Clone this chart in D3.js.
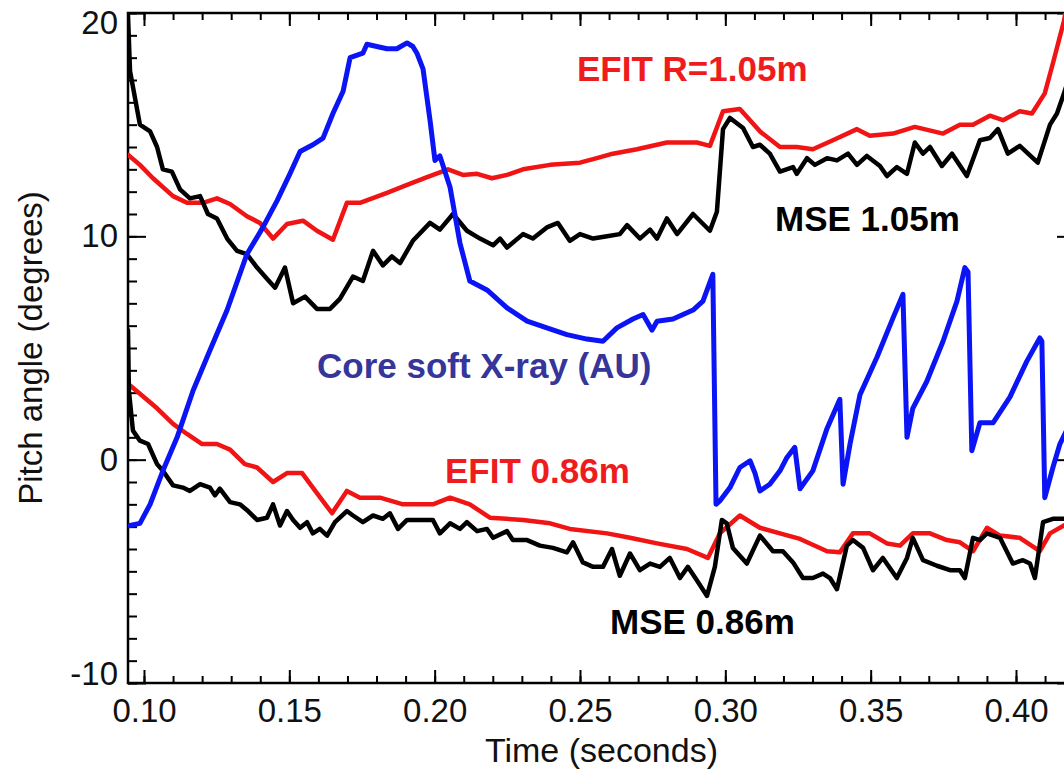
<!DOCTYPE html>
<html>
<head>
<meta charset="utf-8">
<script src="https://cdn.jsdelivr.net/npm/d3@7"></script>
<style>
  html, body { margin: 0; padding: 0; background: #fff; }
  svg { display: block; }
</style>
</head>
<body>
<svg id="chart" width="1064" height="770"></svg>
<script>
// Pitch angle traces, [time (s), angle (deg)]
const efit105 = [
  [0.0945, 13.65], [0.0986, 13.2], [0.1031, 12.6], [0.1100, 11.8], [0.1148, 11.5],
  [0.1203, 11.5], [0.1251, 11.7], [0.1296, 11.45], [0.1354, 10.9], [0.1399, 10.6],
  [0.1444, 9.9], [0.1492, 10.55], [0.1547, 10.7], [0.1595, 10.25], [0.1650, 9.85],
  [0.1698, 11.5], [0.1743, 11.5], [0.1836, 11.95], [0.1905, 12.3], [0.1974, 12.65],
  [0.2046, 13.0], [0.2097, 12.75], [0.2146, 12.8], [0.2197, 12.6], [0.2249, 12.75],
  [0.2304, 13.0], [0.2397, 13.2], [0.2500, 13.3], [0.2558, 13.5], [0.2613, 13.7],
  [0.2696, 13.9], [0.2799, 14.2], [0.2902, 14.2], [0.2947, 14.05], [0.2992, 15.6],
  [0.3050, 15.7], [0.3119, 14.7], [0.3188, 14.0], [0.3246, 14.0], [0.3301, 13.9],
  [0.3370, 14.3], [0.3453, 14.8], [0.3497, 14.5], [0.3577, 14.6], [0.3652, 14.9],
  [0.3749, 14.6], [0.3807, 15.0], [0.3852, 15.0], [0.3910, 15.4], [0.3955, 15.2],
  [0.4013, 15.6], [0.4055, 15.5], [0.4099, 16.4], [0.4127, 17.75], [0.4165, 19.64],
  [0.4185, 21.0]
];

const mse105 = [
  [0.0945, 19.9], [0.0952, 17.4], [0.0969, 16.2], [0.0986, 15.0], [0.1021, 14.7],
  [0.1045, 14.0], [0.1065, 13.0], [0.1096, 12.9], [0.1124, 12.1], [0.1158, 11.7],
  [0.1193, 11.8], [0.1220, 11.0], [0.1251, 10.8], [0.1286, 9.9], [0.1320, 9.35],
  [0.1354, 9.2], [0.1389, 8.6], [0.1423, 8.1], [0.1451, 7.7], [0.1485, 8.6],
  [0.1513, 7.0], [0.1554, 7.3], [0.1595, 6.75], [0.1640, 6.75], [0.1674, 7.2],
  [0.1719, 8.2], [0.1753, 8.0], [0.1788, 9.35], [0.1822, 8.7], [0.1853, 9.1],
  [0.1881, 8.8], [0.1925, 9.8], [0.1984, 10.6], [0.2018, 10.3], [0.2063, 11.0],
  [0.2111, 10.25], [0.2156, 9.9], [0.2201, 9.6], [0.2225, 9.9], [0.2249, 9.5],
  [0.2304, 10.1], [0.2338, 9.9], [0.2386, 10.4], [0.2424, 10.6], [0.2465, 9.8],
  [0.2500, 10.1], [0.2545, 9.9], [0.2593, 10.0], [0.2637, 10.1], [0.2662, 10.5],
  [0.2706, 9.9], [0.2741, 10.3], [0.2765, 9.9], [0.2799, 10.8], [0.2834, 10.1],
  [0.2889, 11.0], [0.2947, 10.25], [0.2971, 11.1], [0.2992, 14.8], [0.3016, 15.3],
  [0.3061, 14.85], [0.3095, 14.0], [0.3119, 14.1], [0.3153, 13.7], [0.3188, 12.9],
  [0.3233, 13.1], [0.3246, 12.8], [0.3281, 13.5], [0.3308, 13.2], [0.3350, 13.5],
  [0.3384, 13.4], [0.3422, 13.7], [0.3453, 13.2], [0.3487, 13.6], [0.3532, 13.15],
  [0.3556, 12.7], [0.3590, 13.1], [0.3625, 12.8], [0.3652, 14.2], [0.3680, 13.7],
  [0.3704, 14.0], [0.3745, 13.15], [0.3780, 13.7], [0.3831, 12.7], [0.3876, 14.3],
  [0.3910, 14.4], [0.3938, 14.8], [0.3972, 13.7], [0.4013, 14.05], [0.4075, 13.3],
  [0.4117, 15.0], [0.4141, 15.5], [0.4165, 16.4], [0.4185, 17.2]
];

const efit086 = [
  [0.0945, 3.4], [0.0986, 2.95], [0.1045, 2.3], [0.1100, 1.6], [0.1148, 1.15],
  [0.1200, 0.7], [0.1251, 0.7], [0.1296, 0.45], [0.1347, -0.2], [0.1389, -0.35],
  [0.1444, -1.0], [0.1492, -0.6], [0.1544, -0.6], [0.1595, -1.5], [0.1647, -2.4],
  [0.1698, -1.4], [0.1743, -1.7], [0.1812, -1.7], [0.1891, -2.0], [0.1994, -2.0],
  [0.2053, -1.7], [0.2121, -2.0], [0.2190, -2.6], [0.2304, -2.7], [0.2397, -2.85],
  [0.2465, -3.1], [0.2593, -3.3], [0.2672, -3.5], [0.2765, -3.75], [0.2868, -4.0],
  [0.2940, -4.4], [0.2981, -3.3], [0.3050, -2.5], [0.3119, -3.05], [0.3188, -3.3],
  [0.3257, -3.55], [0.3350, -4.1], [0.3394, -4.15], [0.3439, -3.3], [0.3497, -3.3],
  [0.3556, -3.75], [0.3601, -3.85], [0.3645, -3.3], [0.3704, -3.3], [0.3762, -3.6],
  [0.3807, -3.7], [0.3852, -4.1], [0.3900, -3.05], [0.3945, -3.4], [0.4013, -3.5],
  [0.4082, -4.1], [0.4117, -3.3], [0.4165, -2.95], [0.4185, -2.8]
];

const mse086 = [
  [0.0945, 5.8], [0.0948, 3.1], [0.0962, 1.3], [0.0986, 0.85], [0.1014, 0.7],
  [0.1045, -0.2], [0.1065, -0.5], [0.1100, -1.15], [0.1134, -1.25], [0.1158, -1.4],
  [0.1193, -1.1], [0.1227, -1.25], [0.1244, -1.6], [0.1261, -1.3], [0.1296, -1.9],
  [0.1330, -2.0], [0.1358, -2.3], [0.1389, -2.7], [0.1423, -2.6], [0.1444, -2.0],
  [0.1468, -2.95], [0.1492, -2.3], [0.1513, -2.7], [0.1537, -3.05], [0.1561, -2.8],
  [0.1581, -3.3], [0.1605, -3.1], [0.1630, -3.4], [0.1657, -2.8], [0.1698, -2.3],
  [0.1719, -2.5], [0.1753, -2.8], [0.1788, -2.5], [0.1822, -2.65], [0.1846, -2.4],
  [0.1874, -3.1], [0.1905, -2.7], [0.1949, -2.7], [0.1994, -2.7], [0.2018, -3.3],
  [0.2053, -2.85], [0.2087, -3.1], [0.2111, -2.8], [0.2146, -3.2], [0.2180, -3.1],
  [0.2201, -3.5], [0.2249, -3.2], [0.2269, -3.6], [0.2318, -3.6], [0.2362, -3.85],
  [0.2407, -3.95], [0.2455, -4.15], [0.2476, -3.7], [0.2510, -4.6], [0.2545, -4.8],
  [0.2579, -4.8], [0.2610, -4.0], [0.2637, -5.2], [0.2672, -4.2], [0.2706, -4.95],
  [0.2741, -4.65], [0.2775, -4.8], [0.2809, -4.4], [0.2844, -5.3], [0.2871, -4.8],
  [0.2902, -5.4], [0.2937, -6.1], [0.2964, -4.8], [0.2988, -2.7], [0.3005, -2.85],
  [0.3026, -3.95], [0.3074, -4.65], [0.3119, -3.4], [0.3164, -4.1], [0.3198, -4.1],
  [0.3233, -4.6], [0.3267, -5.3], [0.3301, -5.3], [0.3336, -5.1], [0.3360, -5.3],
  [0.3384, -5.8], [0.3418, -3.85], [0.3439, -3.6], [0.3474, -3.95], [0.3508, -4.95],
  [0.3542, -4.4], [0.3590, -5.3], [0.3625, -4.4], [0.3645, -3.5], [0.3680, -4.5],
  [0.3728, -4.75], [0.3773, -4.95], [0.3807, -4.95], [0.3824, -5.3], [0.3852, -3.5],
  [0.3876, -3.6], [0.3900, -3.3], [0.3945, -3.5], [0.3989, -4.65], [0.4024, -4.5],
  [0.4048, -4.65], [0.4065, -5.3], [0.4093, -2.8], [0.4127, -2.65], [0.4185, -2.65]
];

// Core soft X-ray signal, arbitrary units on the same vertical scale
const sxr = [
  [0.0952, -2.95], [0.0986, -2.85], [0.1021, -2.0], [0.1065, -0.5], [0.1114, 1.0],
  [0.1169, 3.1], [0.1227, 4.9], [0.1286, 6.7], [0.1354, 9.2], [0.1409, 10.4],
  [0.1458, 11.6], [0.1502, 12.8], [0.1537, 13.8], [0.1581, 14.1], [0.1616, 14.4],
  [0.1650, 15.5], [0.1685, 16.5], [0.1709, 18.0], [0.1753, 18.2], [0.1767, 18.6],
  [0.1801, 18.5], [0.1836, 18.4], [0.1870, 18.4], [0.1905, 18.66], [0.1925, 18.5],
  [0.1939, 18.2], [0.1960, 17.5], [0.1984, 15.2], [0.2001, 13.4], [0.2018, 13.6],
  [0.2053, 12.2], [0.2087, 9.7], [0.2121, 8.0], [0.2180, 7.6], [0.2249, 6.8],
  [0.2318, 6.2], [0.2386, 5.9], [0.2455, 5.6], [0.2524, 5.4], [0.2579, 5.3],
  [0.2627, 5.9], [0.2682, 6.3], [0.2717, 6.5], [0.2748, 5.8], [0.2765, 6.2],
  [0.2820, 6.3], [0.2889, 6.7], [0.2923, 7.1], [0.2957, 8.3], [0.2968, -2.0],
  [0.2981, -1.85], [0.3016, -1.25], [0.3050, -0.35], [0.3085, -0.05], [0.3102, -0.6],
  [0.3119, -1.4], [0.3153, -1.1], [0.3188, -0.5], [0.3212, 0.1], [0.3239, 0.55],
  [0.3257, -1.3], [0.3301, -0.5], [0.3350, 1.4], [0.3394, 2.7], [0.3405, -1.1],
  [0.3429, 0.7], [0.3463, 2.9], [0.3522, 4.6], [0.3577, 6.35], [0.3611, 7.4],
  [0.3625, 1.0], [0.3645, 2.3], [0.3693, 3.5], [0.3749, 5.3], [0.3797, 7.1],
  [0.3824, 8.6], [0.3835, 8.4], [0.3848, 0.4], [0.3876, 1.65], [0.3921, 1.65],
  [0.3979, 2.8], [0.4037, 4.4], [0.4082, 5.45], [0.4089, 5.3], [0.4099, -1.7],
  [0.4127, -0.35], [0.4151, 0.7], [0.4185, 1.6]
];

// Axis ticks
const timeMajorTicks = [0.10, 0.15, 0.20, 0.25, 0.30, 0.35, 0.40];
const timeMinorTicks = [0.10, 0.11, 0.12, 0.13, 0.14, 0.15, 0.16, 0.17, 0.18, 0.19, 0.20,
  0.21, 0.22, 0.23, 0.24, 0.25, 0.26, 0.27, 0.28, 0.29, 0.30, 0.31, 0.32, 0.33, 0.34,
  0.35, 0.36, 0.37, 0.38, 0.39, 0.40, 0.41, 0.42];
const timeTickLabels = ["0.10", "0.15", "0.20", "0.25", "0.30", "0.35", "0.40"];
const angleMajorTicks = [-10, 0, 10, 20];
const angleTickLabels = ["-10", "0", "10", "20"];
const angleMinorTicks = d3.range(-10, 21, 1);

// ---- layout ----
const frame = { left: 128, right: 1075, top: 13, bottom: 683 };
const x = d3.scaleLinear().domain([0.0945, 0.4203]).range([frame.left, frame.right]);
const y = d3.scaleLinear().domain([-10, 20]).range([frame.bottom, frame.top]);

const svg = d3.select("#chart");
const tickFont = "'Liberation Sans', Arial, Helvetica, sans-serif";

svg.append("defs").append("clipPath").attr("id", "plotClip")
  .append("rect")
  .attr("x", frame.left).attr("y", frame.top)
  .attr("width", frame.right - frame.left).attr("height", frame.bottom - frame.top);

function styleAxis(g) {
  g.select(".domain").remove();
  g.selectAll(".tick line").attr("stroke", "#000").attr("stroke-width", 2);
  g.selectAll(".tick text")
    .attr("fill", "#111")
    .style("font-family", tickFont)
    .style("font-size", "33px");
}

// bottom axis: minor + major ticks pointing inward
svg.append("g").attr("transform", `translate(0,${frame.bottom})`)
  .call(d3.axisBottom(x).tickValues(timeMinorTicks).tickSize(-7).tickFormat(""))
  .call(styleAxis);
svg.append("g").attr("transform", `translate(0,${frame.bottom})`)
  .call(d3.axisBottom(x).tickValues(timeMajorTicks).tickSize(-13).tickPadding(16)
    .tickFormat((d, i) => timeTickLabels[i]))
  .call(styleAxis);

// top axis mirrors the bottom ticks
svg.append("g").attr("transform", `translate(0,${frame.top})`)
  .call(d3.axisTop(x).tickValues(timeMinorTicks).tickSize(-7).tickFormat(""))
  .call(styleAxis);
svg.append("g").attr("transform", `translate(0,${frame.top})`)
  .call(d3.axisTop(x).tickValues(timeMajorTicks).tickSize(-13).tickFormat(""))
  .call(styleAxis);

// left axis
svg.append("g").attr("transform", `translate(${frame.left},0)`)
  .call(d3.axisLeft(y).tickValues(angleMinorTicks).tickSize(-9).tickFormat(""))
  .call(styleAxis);
const leftMajor = svg.append("g").attr("transform", `translate(${frame.left},0)`)
  .call(d3.axisLeft(y).tickValues(angleMajorTicks).tickSize(-18).tickPadding(10)
    .tickFormat((d, i) => angleTickLabels[i]))
  .call(styleAxis);
// keep the end labels inside the frame height
leftMajor.selectAll(".tick text")
  .attr("dy", d => d === 20 ? "0.62em" : d === -10 ? "0.05em" : "0.32em");

// right axis
svg.append("g").attr("transform", `translate(${frame.right},0)`)
  .call(d3.axisRight(y).tickValues(angleMinorTicks).tickSize(-9).tickFormat(""))
  .call(styleAxis);
svg.append("g").attr("transform", `translate(${frame.right},0)`)
  .call(d3.axisRight(y).tickValues(angleMajorTicks).tickSize(-18).tickFormat(""))
  .call(styleAxis);

// frame
svg.append("rect")
  .attr("x", frame.left).attr("y", frame.top)
  .attr("width", frame.right - frame.left).attr("height", frame.bottom - frame.top)
  .attr("fill", "none").attr("stroke", "#000").attr("stroke-width", 2.5);

// axis titles
svg.append("text")
  .attr("x", (frame.left + frame.right) / 2).attr("y", 762)
  .attr("text-anchor", "middle")
  .style("font-family", tickFont).style("font-size", "34px").attr("fill", "#111")
  .text("Time (seconds)");
svg.append("text")
  .attr("transform", `translate(42,${(frame.top + frame.bottom) / 2}) rotate(-90)`)
  .attr("text-anchor", "middle")
  .style("font-family", tickFont).style("font-size", "33px").attr("fill", "#111")
  .text("Pitch angle (degrees)");

// traces
const line = d3.line().x(d => x(d[0])).y(d => y(d[1]));
const traces = [
  { data: efit105, color: "#f01414", width: 4.5 },
  { data: efit086, color: "#f01414", width: 4.5 },
  { data: mse105, color: "#000", width: 4.5 },
  { data: mse086, color: "#000", width: 4.5 },
  { data: sxr, color: "#0a14f5", width: 5 }
];
const plot = svg.append("g").attr("clip-path", "url(#plotClip)");
plot.selectAll("path.trace").data(traces).join("path")
  .attr("class", "trace")
  .attr("d", d => line(d.data))
  .attr("fill", "none")
  .attr("stroke", d => d.color)
  .attr("stroke-width", d => d.width)
  .attr("stroke-linejoin", "round")
  .attr("stroke-linecap", "round");

// series annotations
const labelFont = "'Liberation Sans', Arial, Helvetica, sans-serif";
const notes = [
  { text: "EFIT R=1.05m", px: 577, py: 81, color: "#ee1c1c" },
  { text: "MSE 1.05m", px: 775, py: 231, color: "#000" },
  { text: "Core soft X-ray (AU)", px: 317, py: 378, color: "#35359a" },
  { text: "EFIT 0.86m", px: 445, py: 483, color: "#ee1c1c" },
  { text: "MSE 0.86m", px: 610, py: 634, color: "#000" }
];
svg.selectAll("text.note").data(notes).join("text")
  .attr("class", "note")
  .attr("x", d => d.px).attr("y", d => d.py)
  .attr("fill", d => d.color)
  .style("font-family", labelFont).style("font-size", "35px").style("font-weight", "bold")
  .text(d => d.text);
</script>
</body>
</html>
